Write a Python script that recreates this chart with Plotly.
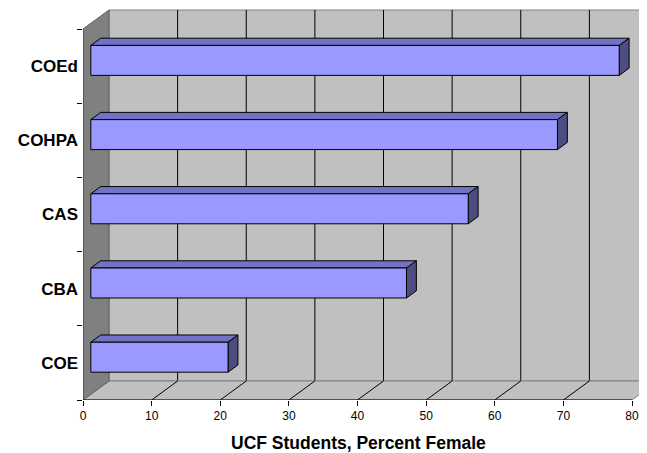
import plotly.graph_objects as go

categories = ["COE", "CBA", "CAS", "COHPA", "COEd"]
values = [20, 46, 55, 68, 77]
x_ticks = [0, 10, 20, 30, 40, 50, 60, 70, 80]
x_title = "UCF Students, Percent Female"

XMAX = 80
N = len(categories)
# 3D depth offsets (data units)
DX = 3.79
DY = 0.256
F = 0.30   # bar front depth fraction
B = 0.38   # bar depth fraction
H = 0.404  # bar thickness (category units)

FRONT = "#9999FF"
TOP = "#7373C6"
SIDE = "#4D4D80"
WALL = "#C0C0C0"
LWALL = "#808080"

fig = go.Figure()

def poly(xs, ys, fill, line_color, width=1):
    fig.add_trace(go.Scatter(x=xs + [xs[0]], y=ys + [ys[0]], mode="lines", fill="toself",
                             fillcolor=fill, line=dict(color=line_color, width=width),
                             hoverinfo="skip", showlegend=False))

def seg(xs, ys, color, width=1):
    fig.add_trace(go.Scatter(x=xs, y=ys, mode="lines", line=dict(color=color, width=width),
                             hoverinfo="skip", showlegend=False))

y0 = -0.5
y1 = N - 0.5
# back wall
poly([DX, XMAX + DX, XMAX + DX, DX], [y0 + DY, y0 + DY, y1 + DY, y1 + DY], WALL, "#808080")
# back wall grid lines
for v in x_ticks[1:-1]:
    seg([v + DX, v + DX], [y0 + DY, y1 + DY], "black")
# floor
poly([0, XMAX, XMAX + DX, DX], [y0, y0, y0 + DY, y0 + DY], WALL, "#808080")
for v in x_ticks[1:-1]:
    seg([v, v + DX], [y0, y0 + DY], "black")
# left wall
poly([0, DX, DX, 0], [y0, y0 + DY, y1 + DY, y1], LWALL, "#606060")
seg([0, 0], [y0, y1], "#404040")
seg([0, XMAX], [y0, y0], "black")

# bars
for i, v in enumerate(values):
    xa = F * DX
    ya = F * DY
    xb = (F + B) * DX
    yb = (F + B) * DY
    lo = i - H / 2
    hi = i + H / 2
    # top face
    poly([xa, v + xa, v + xb, xb], [hi + ya, hi + ya, hi + yb, hi + yb], TOP, "black")
    # side face
    poly([v + xa, v + xb, v + xb, v + xa], [lo + ya, lo + yb, hi + yb, hi + ya], SIDE, "black")
    # front face
    poly([xa, v + xa, v + xa, xa], [lo + ya, lo + ya, hi + ya, hi + ya], FRONT, "black")

# page body has an 8px margin: the figure is sized to fill the rest of the window
OFF = 8
FIG_W = 647 - OFF
FIG_H = 453 - OFF
px_per_x = 549 / 80.0
left = 83 - OFF
plot_w = FIG_W - left
px_per_y = 74.2
plot_h = 400 - OFF

fig.update_layout(
    width=FIG_W, height=FIG_H,
    margin=dict(l=left, r=0, t=0, b=FIG_H - plot_h, autoexpand=False),
    paper_bgcolor="white", plot_bgcolor="white",
    font=dict(family="Liberation Sans, Arial, sans-serif", color="black"),
    xaxis=dict(range=[0, plot_w / px_per_x], tickvals=x_ticks, ticks="outside", ticklen=5,
               tickcolor="black", showgrid=False, zeroline=False, showline=False,
               automargin=False, tickfont=dict(size=12)),
    yaxis=dict(range=[y0, y0 + plot_h / px_per_y], tickvals=list(range(N)), ticktext=categories,
               ticks="", showgrid=False,
               zeroline=False, showline=False, ticklabelstandoff=4, automargin=False,
               tickfont=dict(size=17, weight="bold")),
    yaxis2=dict(range=[y0, y0 + plot_h / px_per_y], overlaying="y", side="left",
                tickvals=[k - 0.5 for k in range(N + 1)], ticks="outside", ticklen=5,
                tickcolor="black", showticklabels=False, showgrid=False, zeroline=False,
                showline=False, automargin=False),
    annotations=[dict(text="<b>" + x_title + "</b>", xref="paper", yref="paper",
                      x=(358 - 83) / plot_w, y=(400 - 443) / plot_h, xanchor="center",
                      yanchor="middle", showarrow=False, font=dict(size=17.5))],
)
# dummy trace for yaxis2 so it renders
fig.add_trace(go.Scatter(x=[None], y=[None], yaxis="y2", showlegend=False, hoverinfo="skip"))

fig.write_html("out.html")
